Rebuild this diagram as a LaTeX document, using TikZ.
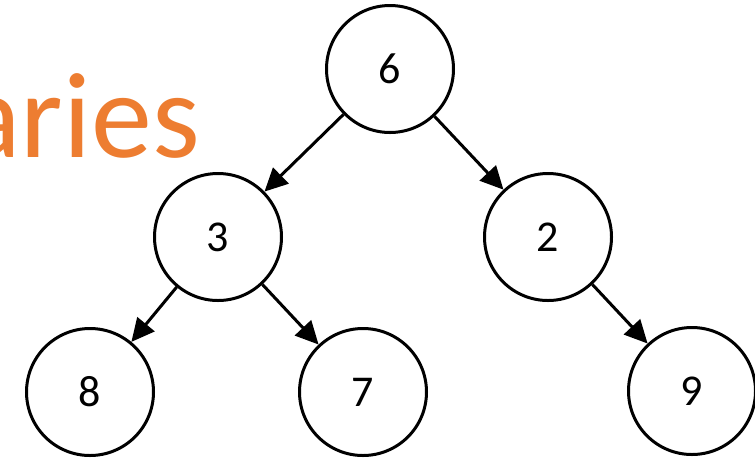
\documentclass[tikz,border=0pt]{standalone}
\usepackage{fontspec}
\setmainfont{Carlito}
\usetikzlibrary{arrows.meta}
\definecolor{accentorange}{HTML}{ED7D31}
\begin{document}
\begin{tikzpicture}[x=1pt,y=-1pt,
  treenode/.style={circle,draw=black,line width=3pt,minimum size=127pt,inner sep=0pt,
    font=\fontsize{44}{44}\selectfont},
  edge/.style={line width=3pt,-{Triangle[length=23pt,width=22pt]}}]
  \useasboundingbox (0,0) rectangle (755,459);
  \fill[white] (0,0) rectangle (755,459);
  % title fragment
  \node[anchor=base east,inner sep=0pt,text=accentorange,
    font=\fontsize{122}{122}\selectfont] (title) at (200,157) {aries};
  % tree
  \node[treenode] (n6) at (390,69) {6};
  \node[treenode] (n3) at (218,237) {3};
  \node[treenode] (n2) at (548,237) {2};
  \node[treenode] (n8) at (90,392) {8};
  \node[treenode] (n7) at (363,392) {7};
  \node[treenode] (n9) at (692,391) {9};
  \draw[edge] (n6) -- (n3);
  \draw[edge] (n6) -- (n2);
  \draw[edge] (n3) -- (n8);
  \draw[edge] (n3) -- (n7);
  \draw[edge] (n2) -- (n9);
\end{tikzpicture}
\end{document}
